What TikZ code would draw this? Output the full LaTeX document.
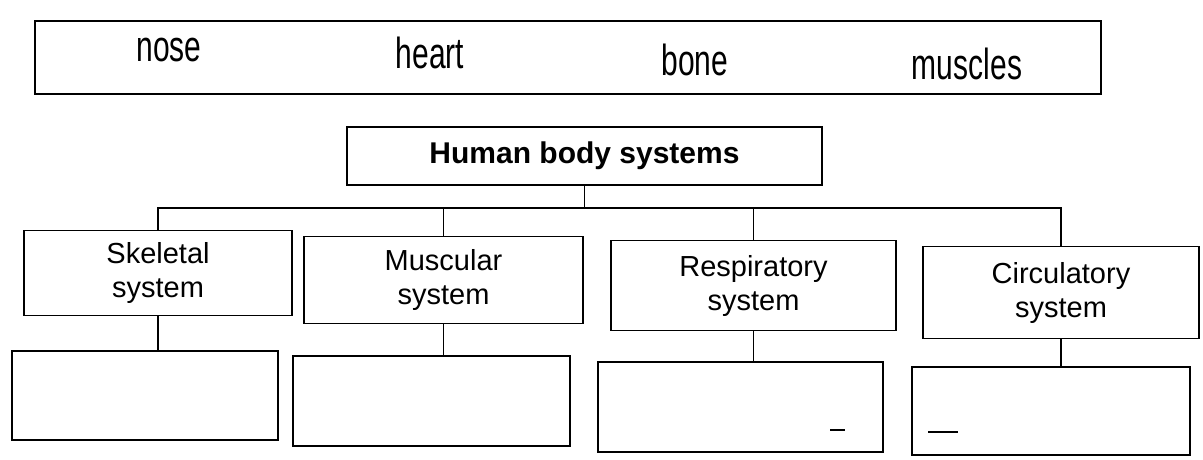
\documentclass[tikz,border=0pt]{standalone}
\usepackage{fontspec}
\setmainfont{Liberation Sans}

\begin{document}
\begin{tikzpicture}[x=1pt,y=-1pt,line width=1.8pt,
  box/.style={draw,inner sep=0pt,align=center,font=\fontsize{29}{34}\selectfont},
  word/.style={inner sep=0pt,font=\fontsize{30}{34}\selectfont}]
\useasboundingbox (0,0) rectangle (1203,459);
% word bank
\node[box,minimum width=1066pt,minimum height=73pt] (bank) at (568,57.5) {};
\node[word] (nose) at (169,50) {\scalebox{1}[1.45]{nose}};
\node[word] (heart) at (430,53) {\scalebox{1}[1.45]{heart}};
\node[word] (bone) at (695,60) {\scalebox{1}[1.45]{bone}};
\node[word] (muscles) at (967,64) {\scalebox{1}[1.45]{muscles}};
% tree
\node[box,minimum width=475pt,minimum height=58pt,font=\fontsize{30}{36}\selectfont\bfseries] (hbs) at (584.5,156) {Human body systems};
\node[box,minimum width=268pt,minimum height=85pt] (skel) at (158,273) {Skeletal\\system};
\node[box,minimum width=279pt,minimum height=87pt] (musc) at (443.5,280) {Muscular\\system};
\node[box,minimum width=285pt,minimum height=90pt] (resp) at (753.5,285.5) {Respiratory\\system};
\node[box,minimum width=276pt,minimum height=92pt] (circ) at (1061,292.5) {Circulatory\\system};
\node[box,minimum width=266pt,minimum height=89pt] (b1) at (145,395.5) {};
\node[box,minimum width=277pt,minimum height=90pt] (b2) at (431.5,401) {};
\node[box,minimum width=285pt,minimum height=90pt] (b3) at (740.5,407) {};
\node[box,minimum width=278pt,minimum height=88pt] (b4) at (1051,411) {};
\coordinate (bus) at (0,208);
\draw (hbs.south) -- (hbs.south |- bus);
\draw (skel.north) -- (skel.north |- bus) -- (circ.north |- bus) -- (circ.north);
\foreach \s in {musc,resp} \draw (\s.north) -- (\s.north |- bus);
\foreach \a/\b in {skel/b1,musc/b2,resp/b3,circ/b4} \draw (\a.south) -- (\a.south |- \b.north);
% small marks
\draw (830,430) -- (845,430);
\draw (928,432) -- (958,432);
\end{tikzpicture}
\end{document}
